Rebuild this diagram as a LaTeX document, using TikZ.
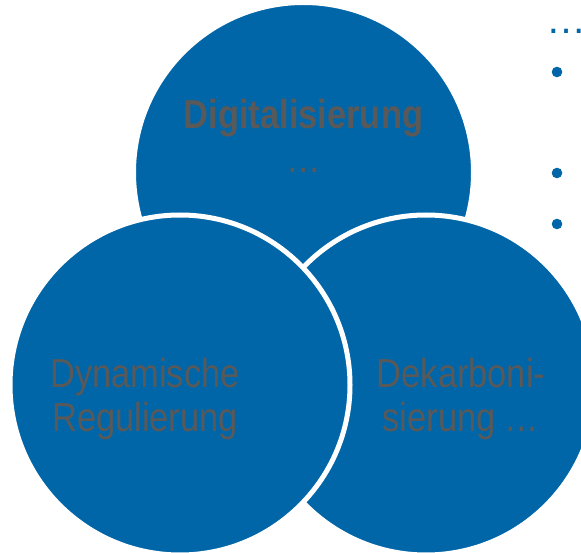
\documentclass[tikz,border=0pt]{standalone}
\usepackage{fontspec}
\newfontfamily\vennfont{Liberation Sans}[FakeStretch=0.85]
\newfontfamily\listfont{Liberation Sans}
\usetikzlibrary{positioning}

\definecolor{vennblue}{HTML}{0066A8}
\definecolor{labelgray}{HTML}{595959}

\tikzset{
	venncircle/.style={circle, fill=vennblue, draw=white, line width=5pt,
		minimum size=340pt, inner sep=0pt, outer sep=0pt},
	vennlabel/.style={text=labelgray, font=\vennfont\fontsize{40.5}{44}\selectfont,
		align=center, inner sep=0pt},
}

\begin{document}
\begin{tikzpicture}[x=1pt, y=-1pt]
	\useasboundingbox (0,0) rectangle (581,553);
	
	% Draw the circles, back to front
	\node[venncircle] (digi) at (303.5,172.5) {};
	\node[venncircle] (dekarb) at (426,385) {};
	\node[venncircle] (dyn) at (180,385) {};
	
	% Labels inside the circles (base = last line)
	\node[vennlabel, anchor=base] (digilabel) at (303.5,173) {\textbf{Digitalisierung}\\…};
	\node[vennlabel, anchor=base] (dynlabel) at (145,431) {Dynamische\\Regulierung};
	\node[vennlabel, anchor=base] (dekarblabel) at (461,431) {Dekarboni-\\sierung …};
	
	% List on the right, cut off by the border
	\node[text=vennblue, font=\listfont\fontsize{40}{44}\selectfont, anchor=base west, inner sep=0pt] (listdots) at (546,34) {…};
	\foreach \y in {72,173,224} {
		\fill[vennblue] (557,\y) circle[radius=5.3pt];
	}
\end{tikzpicture}
\end{document}
